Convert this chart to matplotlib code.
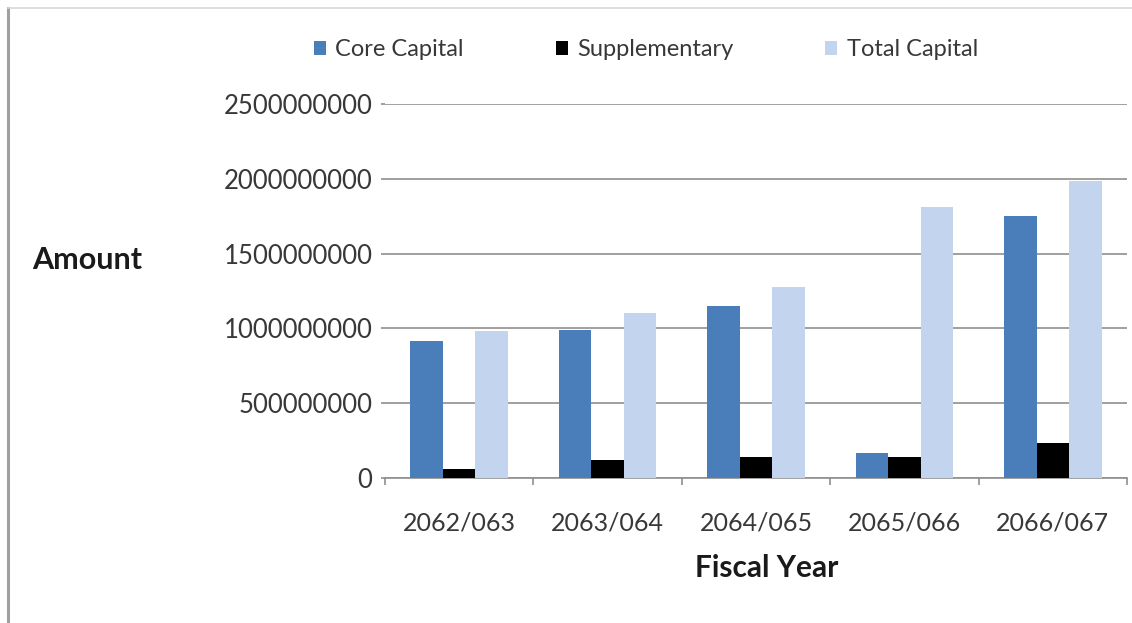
import matplotlib.pyplot as plt
import numpy as np
from matplotlib.patches import Patch
from matplotlib.lines import Line2D
from matplotlib.ticker import StrMethodFormatter

years = ['2062/063', '2063/064', '2064/065', '2065/066', '2066/067']
core_capital = [913000000, 990000000, 1150000000, 165000000, 1750000000]
supplementary = [60000000, 120000000, 143000000, 140000000, 233000000]
total_capital = [980000000, 1100000000, 1275000000, 1810000000, 1986000000]

series_names = ['Core Capital', 'Supplementary', 'Total Capital']
colors = ['#4A7EBB', '#000000', '#C3D5EE']

plt.rcParams['font.family'] = ['Lato', 'DejaVu Sans']

fig = plt.figure(figsize=(11.32, 6.23), dpi=100)
ax = fig.add_axes([385 / 1132, 1 - 478 / 623, 742 / 1132, 374 / 623])

x = np.arange(len(years))
w = 0.219
ax.bar(x - w, core_capital, w, color=colors[0], zorder=3)
ax.bar(x, supplementary, w, color=colors[1], zorder=3)
ax.bar(x + w, total_capital, w, color=colors[2], zorder=3)

ax.set_xlim(-0.5, len(years) - 0.5)
ax.set_ylim(0, 2500000000)
ax.set_yticks(np.arange(0, 2500000001, 500000000))
ax.yaxis.set_major_formatter(StrMethodFormatter('{x:.0f}'))
ax.grid(axis='y', color='#8f8f8f', linewidth=1.2, zorder=0)

# category labels at centres, tick marks at the boundaries
ax.set_xticks(x)
ax.set_xticklabels(years)
ax.set_xticks(np.arange(-0.5, len(years)), minor=True)
ax.tick_params(axis='x', which='major', length=0, pad=24, labelsize=18, labelcolor='#383838')
ax.tick_params(axis='x', which='minor', length=5, color='#8f8f8f', width=1.2, direction='out')
ax.tick_params(axis='y', length=3, color='#8f8f8f', width=1.2, pad=6, labelsize=18.5, labelcolor='#383838')

for side in ['left', 'right', 'top']:
    ax.spines[side].set_visible(False)
ax.spines['bottom'].set_color('#8f8f8f')
ax.spines['bottom'].set_linewidth(1.2)

fig.text(32 / 1132, 1 - 260 / 623, 'Amount', fontsize=22, fontweight='bold',
         color='#1a1a1a', ha='left', va='center')
fig.text(767 / 1132, 1 - 568 / 623, 'Fiscal Year', fontsize=21.5, fontweight='bold',
         color='#1a1a1a', ha='center', va='center')

handles = [Patch(facecolor=c, edgecolor='none') for c in colors]
fig.legend(handles, series_names, loc='center', bbox_to_anchor=(646 / 1132, 1 - 50 / 623),
           ncol=3, frameon=False, fontsize=17, labelcolor='#383838',
           handlelength=0.5, handleheight=0.5, handletextpad=0.4, columnspacing=3.9)

# chart area border (left and top edges)
fig.add_artist(Line2D([8 / 1132, 8 / 1132], [0, 1 - 8 / 623], color='#a0a0a0', linewidth=2.2))
fig.add_artist(Line2D([8 / 1132, 1], [1 - 8 / 623, 1 - 8 / 623], color='#d8d8d8', linewidth=1.2))

plt.savefig('out.png', dpi=100)
